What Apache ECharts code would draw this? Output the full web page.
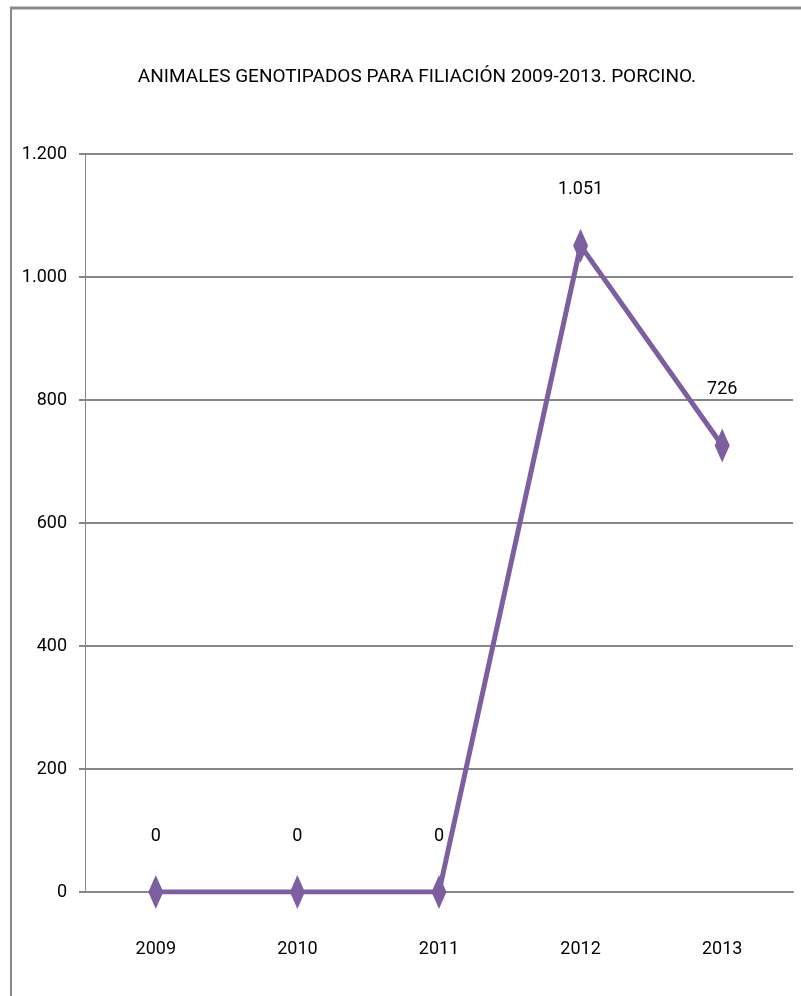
<!DOCTYPE html>
<html>
<head>
<meta charset="utf-8">
<script src="https://cdn.jsdelivr.net/npm/echarts@6/dist/echarts.min.js"></script>
<style>
  html, body { margin: 0; padding: 0; background: #fff; }
  #chart { width: 801px; height: 996px; }
</style>
</head>
<body>
<div id="chart"></div>
<script>
const years = ['2009', '2010', '2011', '2012', '2013'];
const animales = [0, 0, 0, 1051, 726];
const yTicks = [0, 200, 400, 600, 800, 1000, 1200];

const font = 'Roboto, "Liberation Sans", sans-serif';
const purple = '#7d5fa0';
const gridGray = '#868686';

// punto como separador de miles (1.200)
const fmt = v => String(v).replace(/\B(?=(\d{3})+(?!\d))/g, '.');

const chart = echarts.init(document.getElementById('chart'));
chart.setOption({
  animation: false,
  title: {
    text: 'ANIMALES GENOTIPADOS PARA FILIACIÓN 2009-2013. PORCINO.',
    left: 412, top: 63, textAlign: 'center',
    textStyle: { fontFamily: font, fontSize: 19, fontWeight: 'normal', color: '#000' }
  },
  graphic: [
    { type: 'line', shape: { x1: 10, y1: 8, x2: 801, y2: 8 }, style: { stroke: '#8a8a8a', lineWidth: 3 } },
    { type: 'line', shape: { x1: 11, y1: 8, x2: 11, y2: 996 }, style: { stroke: '#8a8a8a', lineWidth: 2 } }
  ],
  grid: { left: 85, right: 8, top: 154, bottom: 104 },
  xAxis: {
    type: 'category',
    data: years,
    boundaryGap: true,
    axisLine: { lineStyle: { color: gridGray, width: 2 } },
    axisTick: { show: false },
    axisLabel: { fontFamily: font, fontSize: 18, color: '#000', margin: 48 }
  },
  yAxis: {
    type: 'value',
    min: yTicks[0],
    max: yTicks[yTicks.length - 1],
    interval: 200,
    axisLine: { show: true, lineStyle: { color: gridGray, width: 1 } },
    axisTick: { show: true, length: 6, lineStyle: { color: gridGray, width: 2 } },
    splitLine: { lineStyle: { color: gridGray, width: 2 } },
    axisLabel: { fontFamily: font, fontSize: 18, color: '#000', margin: 18, formatter: fmt }
  },
  series: [{
    type: 'line',
    data: animales,
    symbol: 'diamond',
    symbolSize: [15, 34],
    itemStyle: { color: purple },
    lineStyle: { color: purple, width: 5 },
    label: {
      show: true, position: 'top', distance: 30,
      fontFamily: font, fontSize: 18, color: '#000',
      formatter: p => fmt(p.value)
    }
  }]
});
</script>
</body>
</html>
